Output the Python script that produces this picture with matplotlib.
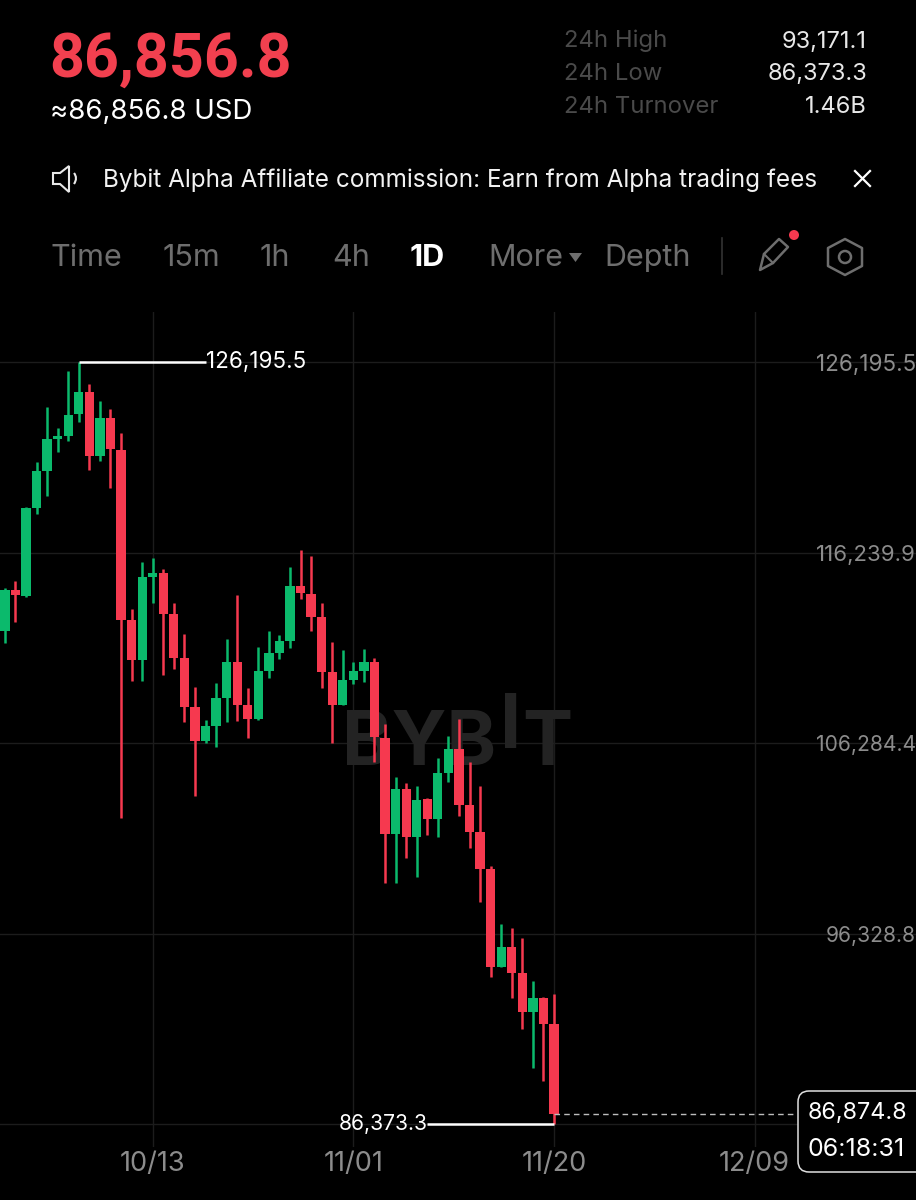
import matplotlib
matplotlib.use("Agg")
import matplotlib.pyplot as plt
import matplotlib.dates as mdates
import pandas as pd
from matplotlib.patches import FancyBboxPatch, Polygon, Circle, PathPatch
from matplotlib.path import Path

plt.rcParams['font.family'] = ['Inter', 'DejaVu Sans']

last_day = pd.Timestamp('2025-11-20')
opens = [112138,114281,113967,118566,120500,122172,122329,123478,124628,121284,123269,121597,112713,110623,114960,115169,113026,110727,108166,106389,107173,108637,110518,108271,107539,110048,110988,111615,114490,114072,112870,109995,108271,109577,110048,110518,106546,101529,103881,101372,103358,102313,104717,105971,103045,101634,99700,94579,95624,94265,92227,92958,91600]
closes = [114281,114019,118566,120500,122172,122329,123426,124628,121284,123269,121649,112713,110623,114960,115169,113026,110727,108166,106389,107173,108637,110518,108271,107539,110048,110988,111615,114490,114124,112870,109995,108271,109577,110048,110518,106598,101529,103881,101372,103306,102313,104717,105971,103045,101634,99700,94579,95624,94265,92227,92958,91600,86874.8]
highs = [114385,114751,118618,120970,123844,122747,125726,126195.5,125046,124158,123740,122486,113288,115744,115953,115378,113601,111981,109211,107487,109421,111720,114019,109159,111302,112138,111929,115483,116371,116058,113601,111563,111145,110518,111197,110727,107278,104508,104195,104038,103410,105501,106651,107539,105292,104038,99857,96826,96617,96094,93847,93010,93171.1]
lows = [111511,112608,113915,118252,119193,121493,122067,123060,120552,121022,119611,102365,109525,109525,113601,109839,110152,107382,103515,106285,106076,107382,107435,106546,107487,109682,110675,111250,113810,112138,109159,106285,108271,109368,109473,105292,98969,98969,100275,99282,101477,101372,104247,102470,100798,97976,94056,94579,92958,91339,89300,88621,86373.3]
dates = pd.date_range(end=last_day, periods=len(opens))

price_ticks = [126195.5, 116239.9, 106284.4, 96328.8, 86373.3]
price_labels = ['126,195.5', '116,239.9', '106,284.4', '96,328.8', '']
price_label_sizes = [16.2, 16.0, 15.2, 15.2, 15.2]
date_ticks = pd.to_datetime(['2025-10-13', '2025-11-01', '2025-11-20', '2025-12-09'])
date_labels = ['10/13', '11/01', '11/20', '12/09']
last_price = 86874.8
countdown = '06:18:31'
header_price = '86,856.8'
header_usd = '≈86,856.8 USD'
stats_names = ['24h High', '24h Low', '24h Turnover']
stats_values = ['93,171.1', '86,373.3', '1.46B']
tabs = ['Time', '15m', '1h', '4h', '1D', 'More', 'Depth']
banner = 'Bybit Alpha Affiliate commission: Earn from Alpha trading fees'

RED = '#F6394F'
GREEN = '#0BBA6C'
GRID = '#1C1C1C'
W, H = 916, 1200

fig = plt.figure(figsize=(W/100, H/100), dpi=100, facecolor='black')

# ---- chart axes: pixel band 312..1147, x scale 10.56 px/day, day 0 at px 554
AX_TOP, AX_BOT = 312, 1147
ax = fig.add_axes([0, 1 - AX_BOT/H, 1, (AX_BOT - AX_TOP)/H], facecolor='black')
px_per_day = 10.56
px_per_price = (1124 - 362) / (price_ticks[0] - price_ticks[-1])
d0 = mdates.date2num(last_day)
ax.set_xlim(d0 - 554/px_per_day, d0 + (W - 554)/px_per_day)
ax.set_ylim(price_ticks[-1] - (AX_BOT - 1124)/px_per_price,
            price_ticks[0] + (362 - AX_TOP)/px_per_price)
ax.xaxis_date()
for s in ax.spines.values():
    s.set_visible(False)
ax.set_xticks(mdates.date2num(date_ticks))
ax.set_xticklabels(date_labels, fontsize=19.5, color='#8C8C8C')
ax.set_yticks(price_ticks)
ax.set_yticklabels(price_labels, color='#8C8C8C')
ax.tick_params(axis='x', length=0, pad=3)
ax.tick_params(axis='y', length=0, pad=0, labelleft=False, labelright=True)
for t, s in zip(ax.get_yticklabels(), price_label_sizes):
    t.set_ha('right')
    t.set_fontsize(s)
ax.grid(True, color=GRID, lw=1)
ax.set_axisbelow(True)

# watermark
wm = dict(color='#232323', fontsize=54, fontweight='bold', zorder=1,
          transform=fig.transFigure, va='baseline')
fig_xy = lambda x, y: (x/W, 1 - y/H)
ax.text(*fig_xy(342, 765), 'BYB', ha='left', **wm)
ax.text(*fig_xy(511, 748), 'I', ha='center', **wm)
ax.text(*fig_xy(572, 765), 'T', ha='right', **wm)

# candles
xs = mdates.date2num(dates)
cols = [GREEN if c >= o else RED for o, c in zip(opens, closes)]
ax.vlines(xs, lows, highs, colors=cols, lw=1.8, zorder=3)
ax.bar(xs, [c - o for o, c in zip(opens, closes)], bottom=opens, width=0.88,
       color=cols, linewidth=0, zorder=4)

# extreme markers
hi_i = highs.index(max(highs))
lo_i = lows.index(min(lows))
ax.hlines(max(highs), xs[hi_i], xs[hi_i] + 12, color='white', lw=1.8, zorder=5)
ax.hlines(min(lows), xs[lo_i] - 12, xs[lo_i], color='white', lw=1.8, zorder=5)
ax.text(xs[hi_i] + 12.0, max(highs), f'{max(highs):,.1f}', color='white', fontsize=16.2,
        va='center', ha='left', zorder=6)
ax.text(xs[lo_i] - 12.0, min(lows), f'{min(lows):,.1f}', color='white', fontsize=15.2,
        va='center', ha='right', zorder=6)
ax.plot([xs[-1], d0 + (797 - 554)/px_per_day], [last_price, last_price], color='#BDBDBD',
        lw=1, ls=(0, (4, 3)), zorder=5)

# ---- overlay in pixel coordinates for the app chrome
ov = fig.add_axes([0, 0, 1, 1], facecolor='none')
ov.set_xlim(0, W)
ov.set_ylim(H, 0)
ov.axis('off')

ov.text(49, 76.5, header_price, color='#F2404F', fontsize=44, fontweight='bold',
        family=['Roboto', 'DejaVu Sans'], va='baseline', ha='left')
ov.text(50, 118.5, header_usd, color='white', fontsize=19.9, va='baseline', ha='left')
for y, n, v in zip([47.5, 80, 113], stats_names, stats_values):
    ov.text(564, y, n, color='#4A4A4A', fontsize=17.2, va='baseline', ha='left')
    ov.text(867, y, v, color='#E8E8E8', fontsize=17.0, va='baseline', ha='right')

ov.text(103, 187, banner, color='#F2F2F2', fontsize=17.5, va='baseline', ha='left')
# speaker icon
ov.add_patch(Polygon([(53, 173), (60, 173), (69, 166), (69, 192), (60, 184), (53, 184)],
                     closed=True, fill=False, ec='#E8E8E8', lw=1.5))
ov.add_patch(PathPatch(Path([(74, 173), (78, 178), (74, 184)], [Path.MOVETO, Path.CURVE3, Path.CURVE3]),
                       fill=False, ec='#E8E8E8', lw=1.5))
# close cross
ov.plot([855, 870], [171, 186], color='white', lw=1.6)
ov.plot([870, 855], [171, 186], color='white', lw=1.6)

tab_x = [50, 163, 260, 332, 410, 488, 604]
for x, t in zip(tab_x, tabs):
    active = t == '1D'
    ov.text(x, 266, t, color='white' if active else '#6E6E6E', fontsize=22,
            fontweight='bold' if active else 'normal', va='baseline', ha='left')
ov.add_patch(Polygon([(569, 253), (582, 253), (575.5, 262)], closed=True, fc='#6E6E6E', ec='none'))
ov.plot([722, 722], [238, 274], color='#333333', lw=1.2)
# pencil icon
ov.add_patch(Polygon([(760, 270), (764, 254), (779, 239), (788, 247), (773, 263)],
                     closed=True, fill=False, ec='#6E6E6E', lw=1.8, joinstyle='round'))
ov.plot([764, 773], [254, 263], color='#6E6E6E', lw=1.5)
ov.add_patch(Circle((794, 235), 5, fc=RED, ec='none'))
# settings hexagon
ov.add_patch(Polygon([(845, 239), (862, 248), (862, 266), (845, 275), (828, 266), (828, 248)],
                     closed=True, fill=False, ec='#6E6E6E', lw=1.8, joinstyle='round'))
ov.add_patch(Circle((845, 257), 6, fill=False, ec='#6E6E6E', lw=1.8))

# last-price box
ov.add_patch(FancyBboxPatch((798, 1091), 140, 81, boxstyle='round,pad=0,rounding_size=11',
                            fc='black', ec='#E0E0E0', lw=1.1, zorder=6))
ov.text(857, 1113, f'{last_price:,.1f}', color='white', fontsize=16.8, va='center', ha='center', zorder=7)
ov.text(856.5, 1149, countdown, color='white', fontsize=18, va='center', ha='center', zorder=7)

fig.savefig('out.png', dpi=100, facecolor='black')
